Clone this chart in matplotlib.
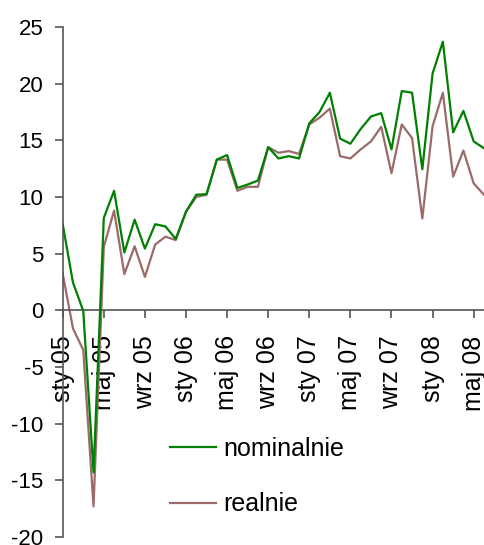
import numpy as np
import matplotlib
matplotlib.use("Agg")
import matplotlib.pyplot as plt

plt.rcParams["font.family"] = ["Liberation Sans", "DejaVu Sans"]
plt.rcParams["axes.unicode_minus"] = False

# monthly data, Jan 2005 - Jun 2008
nominalnie = [7.6, 2.45, -0.05, -14.3, 8.15, 10.55, 5.1, 8.0, 5.45, 7.6, 7.4, 6.3,
              8.7, 10.2, 10.25, 13.3, 13.7, 10.8, 11.1, 11.45, 14.4, 13.4, 13.6, 13.4,
              16.5, 17.5, 19.2, 15.15, 14.7, 16.0, 17.1, 17.4, 14.2, 19.35, 19.2, 12.45,
              20.9, 23.7, 15.7, 17.6, 14.9, 14.3]
realnie = [3.25, -1.6, -3.5, -17.3, 5.6, 8.8, 3.2, 5.65, 2.95, 5.8, 6.5, 6.2,
           8.7, 10.0, 10.2, 13.3, 13.3, 10.55, 10.9, 10.9, 14.4, 13.9, 14.05, 13.8,
           16.4, 17.0, 17.8, 13.6, 13.4, 14.2, 14.9, 16.2, 12.1, 16.4, 15.2, 8.1,
           16.25, 19.2, 11.8, 14.1, 11.2, 10.2]
tick_labels = ["sty 05", "maj 05", "wrz 05", "sty 06", "maj 06", "wrz 06",
               "sty 07", "maj 07", "wrz 07", "sty 08", "maj 08"]

x = np.arange(len(nominalnie))

fig = plt.figure(figsize=(4.85, 5.45), dpi=100)
ax = fig.add_axes([62.7 / 485, 8 / 545, 1 - 62.7 / 485, (537 - 27) / 545])

ax.plot(x, nominalnie, color="#008000", linewidth=1.6, label="nominalnie", zorder=3)
ax.plot(x, realnie, color="#9B6A6A", linewidth=1.6, label="realnie", zorder=2)

# axis crosses at zero, like the original spreadsheet chart
for s in ["top", "right"]:
    ax.spines[s].set_visible(False)
ax.spines["bottom"].set_position(("data", 0))
for s in ["left", "bottom"]:
    ax.spines[s].set_color("#555555")
    ax.spines[s].set_linewidth(1.2)

ax.set_xlim(0, 41.1)
ax.set_ylim(-20, 25)
ax.set_yticks(np.arange(-20, 26, 5))
ax.set_xticks(np.arange(0, len(x), 4))
ax.set_xticklabels(tick_labels)

ax.tick_params(axis="y", direction="out", length=6, width=1.2, color="#555555",
               pad=8, labelsize=16)
ax.tick_params(axis="x", direction="out", length=6, width=1.2, color="#555555",
               pad=12, labelsize=18, labelrotation=90)

ax.legend(loc="upper left", bbox_to_anchor=(0.350, 0.198), bbox_transform=fig.transFigure,
          frameon=False, fontsize=18, handlelength=1.85, handletextpad=0.3,
          labelspacing=1.25, borderpad=0, borderaxespad=0)

fig.savefig("out.png", dpi=100)
